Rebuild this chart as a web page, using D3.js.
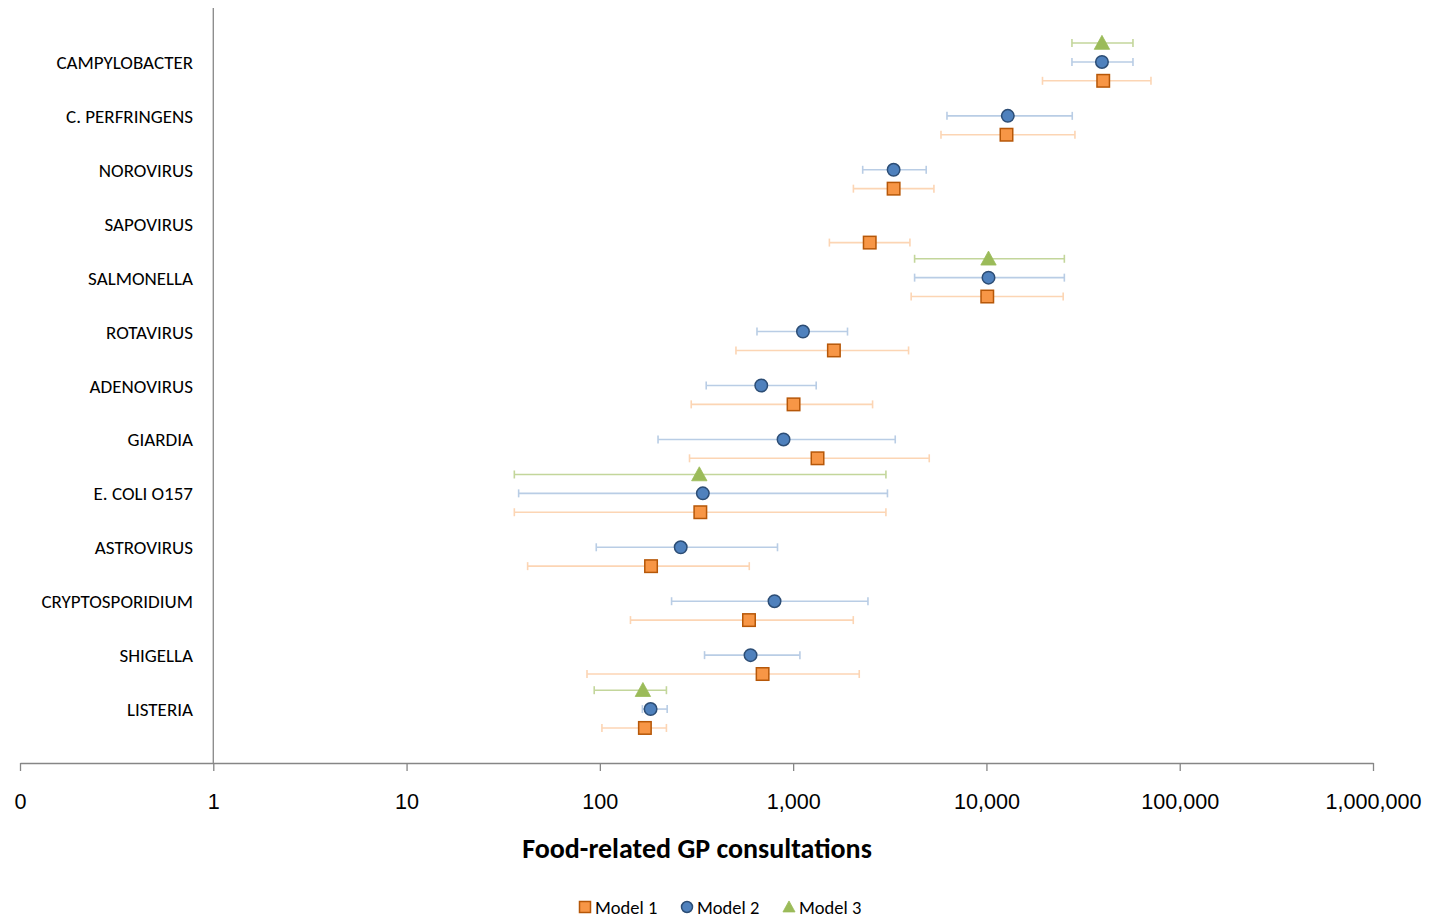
<!DOCTYPE html>
<html>
<head>
<meta charset="utf-8">
<script src="https://cdn.jsdelivr.net/npm/d3@7"></script>
<style>
  html, body { margin: 0; padding: 0; background: #fff; }
  svg { display: block; font-family: Carlito, Lato, "Open Sans", sans-serif; }
</style>
</head>
<body>
<svg id="chart" width="1429" height="919"></svg>
<script>
// Pathogens, top to bottom
const categories = [
  "CAMPYLOBACTER", "C. PERFRINGENS", "NOROVIRUS", "SAPOVIRUS", "SALMONELLA",
  "ROTAVIRUS", "ADENOVIRUS", "GIARDIA", "E. COLI O157", "ASTROVIRUS",
  "CRYPTOSPORIDIUM", "SHIGELLA", "LISTERIA"
];

// Estimates with lower / upper bounds (null = not estimated by that model)
const model1 = [40200, 12700, 3310, 2490, 10100, 1625, 1005, 1337, 331, 184, 591, 695, 171];
const model1Low = [19500, 5820, 2050, 1540, 4080, 506, 297, 291, 36.1, 42.3, 144, 85.8, 102.5];
const model1High = [71000, 28700, 5350, 4020, 24950, 3955, 2576, 5060, 3020, 593, 2047, 2198, 221];

const model2 = [39600, 12900, 3310, null, 10250, 1124, 684, 892, 341, 262, 801, 602, 183];
const model2Low = [27700, 6250, 2290, null, 4250, 650, 355, 200, 38, 95.8, 235, 348, 166];
const model2High = [57300, 27800, 4880, null, 25300, 1911, 1316, 3375, 3076, 830, 2438, 1084, 223];

const model3 = [39600, null, null, null, 10250, null, null, null, 327, null, null, null, 167];
const model3Low = [27700, null, null, null, 4250, null, null, null, 36.1, null, null, null, 93.5];
const model3High = [57300, null, null, null, 25300, null, null, null, 3020, null, null, null, 221];

const tickValues = [0.1, 1, 10, 100, 1000, 10000, 100000, 1000000];
const tickLabels = ["0", "1", "10", "100", "1,000", "10,000", "100,000", "1,000,000"];

const seriesNames = ["Model 1", "Model 2", "Model 3"];

const svg = d3.select("#chart");

const x = d3.scaleLog().domain([0.1, 1000000]).range([20, 1373]);
// Categories sit at 13..1 on a 0..14 vertical scale
const y = d3.scaleLinear().domain([0, 14]).range([763, 8]);
const OFFSET = 0.35;

const styles = [
  { fill: "#F79646", stroke: "#B65708", bar: "#FCD5B4", shape: "square", dy: -OFFSET },
  { fill: "#4F81BD", stroke: "#2C4D75", bar: "#B9CDE5", shape: "circle", dy: 0 },
  { fill: "#9BBB59", stroke: "#9BBB59", bar: "#C3D69B", shape: "triangle", dy: OFFSET }
];

const series = [
  { v: model1, lo: model1Low, hi: model1High },
  { v: model2, lo: model2Low, hi: model2High },
  { v: model3, lo: model3Low, hi: model3High }
];

function rows(s) {
  return categories.map((c, i) => ({
    cat: c, pos: categories.length - i, v: s.v[i], lo: s.lo[i], hi: s.hi[i]
  })).filter(d => d.v != null);
}

// x axis
const xAxis = d3.axisBottom(x)
  .tickValues(tickValues)
  .tickFormat((d, i) => tickLabels[i])
  .tickSize(8)
  .tickSizeOuter(0)
  .tickPadding(23);

const gx = svg.append("g")
  .attr("transform", `translate(0,${y(0)})`)
  .call(xAxis);
gx.select(".domain").attr("stroke", "#868686").attr("stroke-width", 1.3);
gx.selectAll(".tick line").attr("stroke", "#868686").attr("stroke-width", 1.3);
gx.selectAll(".tick text")
  .attr("fill", "#000")
  .style("font-size", "21.6px");

// vertical axis crossing at 1
svg.append("line")
  .attr("x1", x(1)).attr("x2", x(1))
  .attr("y1", y(14)).attr("y2", y(0))
  .attr("stroke", "#868686").attr("stroke-width", 1.3);

// category labels
svg.append("g").selectAll("text")
  .data(categories)
  .join("text")
  .attr("x", 193)
  .attr("y", (d, i) => y(categories.length - i) + 7)
  .attr("text-anchor", "end")
  .style("font-size", "19px")
  .attr("fill", "#000")
  .text(d => d);

// error bars
const CAP = 4;
series.forEach((s, k) => {
  const st = styles[k];
  const g = svg.append("g").attr("class", "errbars");
  const data = rows(s);
  const cy = d => y(d.pos + st.dy);
  g.selectAll("line.bar").data(data).join("line")
    .attr("x1", d => x(d.lo)).attr("x2", d => x(d.hi))
    .attr("y1", cy).attr("y2", cy)
    .attr("stroke", st.bar).attr("stroke-width", 1.6);
  g.selectAll("line.lo").data(data).join("line")
    .attr("x1", d => x(d.lo)).attr("x2", d => x(d.lo))
    .attr("y1", d => cy(d) - CAP).attr("y2", d => cy(d) + CAP)
    .attr("stroke", st.bar).attr("stroke-width", 1.6);
  g.selectAll("line.hi").data(data).join("line")
    .attr("x1", d => x(d.hi)).attr("x2", d => x(d.hi))
    .attr("y1", d => cy(d) - CAP).attr("y2", d => cy(d) + CAP)
    .attr("stroke", st.bar).attr("stroke-width", 1.6);
});

// markers
function drawMarker(sel, shape, st, size) {
  if (shape === "square") {
    sel.append("rect")
      .attr("x", -size / 2).attr("y", -size / 2)
      .attr("width", size).attr("height", size)
      .attr("fill", st.fill).attr("stroke", st.stroke).attr("stroke-width", 1.5);
  } else if (shape === "circle") {
    sel.append("circle")
      .attr("r", size / 2)
      .attr("fill", st.fill).attr("stroke", st.stroke).attr("stroke-width", 1.5);
  } else {
    const h = size;
    sel.append("path")
      .attr("d", `M0,${-h * 0.55}L${h * 0.55},${h * 0.45}L${-h * 0.55},${h * 0.45}Z`)
      .attr("fill", st.fill).attr("stroke", st.stroke).attr("stroke-width", 0.8);
  }
}

series.forEach((s, k) => {
  const st = styles[k];
  const data = rows(s);
  svg.append("g").selectAll("g").data(data).join("g")
    .attr("transform", d => `translate(${x(d.v)},${y(d.pos + st.dy)})`)
    .each(function () { drawMarker(d3.select(this), st.shape, st, st.shape === "triangle" ? 14 : 12.5); });
});

// axis title
svg.append("text")
  .attr("x", 697).attr("y", 858)
  .attr("text-anchor", "middle")
  .style("font-size", "28px").style("font-weight", "bold")
  .attr("fill", "#000")
  .text("Food-related GP consultations");

// legend
const legendX = [585, 687, 789];
const lg = svg.append("g").selectAll("g").data(seriesNames).join("g")
  .attr("transform", (d, i) => `translate(${legendX[i]},907)`);
lg.each(function (d, i) { drawMarker(d3.select(this), styles[i].shape, styles[i], 11); });
lg.append("text")
  .attr("x", 10).attr("y", 6.5)
  .style("font-size", "18.5px")
  .attr("fill", "#000")
  .text(d => d);
</script>
</body>
</html>
